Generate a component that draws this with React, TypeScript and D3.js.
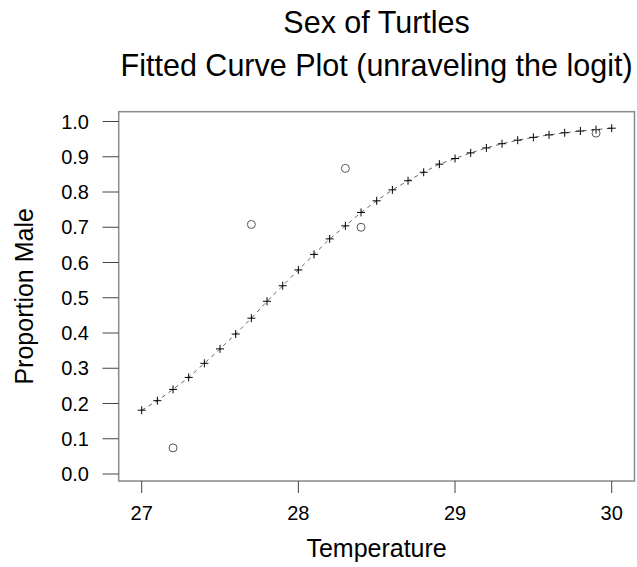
import React from "react";
import * as d3 from "d3";

const fitTemps = [27.0, 27.1, 27.2, 27.3, 27.4, 27.5, 27.6, 27.7, 27.8, 27.9, 28.0, 28.1, 28.2, 28.3, 28.4, 28.5, 28.6, 28.7, 28.8, 28.9, 29.0, 29.1, 29.2, 29.3, 29.4, 29.5, 29.6, 29.7, 29.8, 29.9, 30.0];
const fitProps = [0.181, 0.208, 0.240, 0.274, 0.314, 0.355, 0.397, 0.442, 0.490, 0.534, 0.579, 0.623, 0.667, 0.704, 0.742, 0.775, 0.806, 0.832, 0.856, 0.879, 0.895, 0.911, 0.925, 0.937, 0.947, 0.955, 0.962, 0.968, 0.973, 0.977, 0.981];
const obsTemps = [27.2, 27.7, 28.3, 28.4, 29.9];
const obsProps = [0.074, 0.708, 0.867, 0.700, 0.967];
const xTicks = [27, 28, 29, 30];
const yTicks = [0, 0.1, 0.2, 0.3, 0.4, 0.5, 0.6, 0.7, 0.8, 0.9, 1.0];
const titleLines = ["Sex of Turtles", "Fitted Curve Plot (unraveling the logit)"];
const xLabel = "Temperature";
const yLabel = "Proportion Male";

const W = 637, H = 567;
const box = { left: 118.7, right: 634.5, top: 111.7, bottom: 481 };
const FONT = "'Liberation Sans', Arial, sans-serif";

export default function App() {
  const x = d3.scaleLinear().domain([27, 30]).range([141.7, 611.7]);
  const y = d3.scaleLinear().domain([0, 1]).range([474, 121.5]);
  const line = d3.line<number>().x((_, i) => x(fitTemps[i])).y((d) => y(d));
  const cx = (box.left + box.right) / 2;
  const cy = (box.top + box.bottom) / 2;
  return (
    <svg width={W} height={H} style={{ position: "absolute", left: 0, top: 0, background: "#fff" }} fontFamily={FONT}>
      <rect x={0} y={0} width={W} height={H} fill="#fff" />
      {/* titles */}
      <text x={cx} y={33} textAnchor="middle" fontSize={30.5} fill="#000">{titleLines[0]}</text>
      <text x={cx} y={76} textAnchor="middle" fontSize={30.5} fill="#000">{titleLines[1]}</text>
      {/* box */}
      <rect x={box.left} y={box.top} width={box.right - box.left} height={box.bottom - box.top} fill="none" stroke="#8a8a8a" strokeWidth={1.5} />
      {/* y axis */}
      {yTicks.map((t) => (
        <g key={"y" + t}>
          <line x1={102.5} x2={box.left} y1={y(t)} y2={y(t)} stroke="#444" strokeWidth={1} />
          <text x={89} y={y(t)} dy="0.36em" textAnchor="end" fontSize={20} fill="#000">{t.toFixed(1)}</text>
        </g>
      ))}
      {/* x axis */}
      {xTicks.map((t) => (
        <g key={"x" + t}>
          <line x1={x(t)} x2={x(t)} y1={box.bottom} y2={493} stroke="#444" strokeWidth={1} />
          <text x={x(t)} y={520} textAnchor="middle" fontSize={20} fill="#000">{t}</text>
        </g>
      ))}
      <text x={cx} y={557} textAnchor="middle" fontSize={25} fill="#000">{xLabel}</text>
      <text transform={`translate(33,${cy}) rotate(-90)`} textAnchor="middle" fontSize={25} fill="#000">{yLabel}</text>
      {/* fitted curve */}
      <path d={line(fitProps) || ""} fill="none" stroke="#555" strokeWidth={0.9} strokeDasharray="4,4" />
      {fitProps.map((p, i) => (
        <g key={"f" + i} stroke="#000" strokeWidth={1}>
          <line x1={x(fitTemps[i]) - 4} x2={x(fitTemps[i]) + 4} y1={y(p)} y2={y(p)} />
          <line x1={x(fitTemps[i])} x2={x(fitTemps[i])} y1={y(p) - 4} y2={y(p) + 4} />
        </g>
      ))}
      {/* observed */}
      {obsProps.map((p, i) => (
        <circle key={"o" + i} cx={x(obsTemps[i])} cy={y(p)} r={4} fill="none" stroke="#555" strokeWidth={1} />
      ))}
    </svg>
  );
}
